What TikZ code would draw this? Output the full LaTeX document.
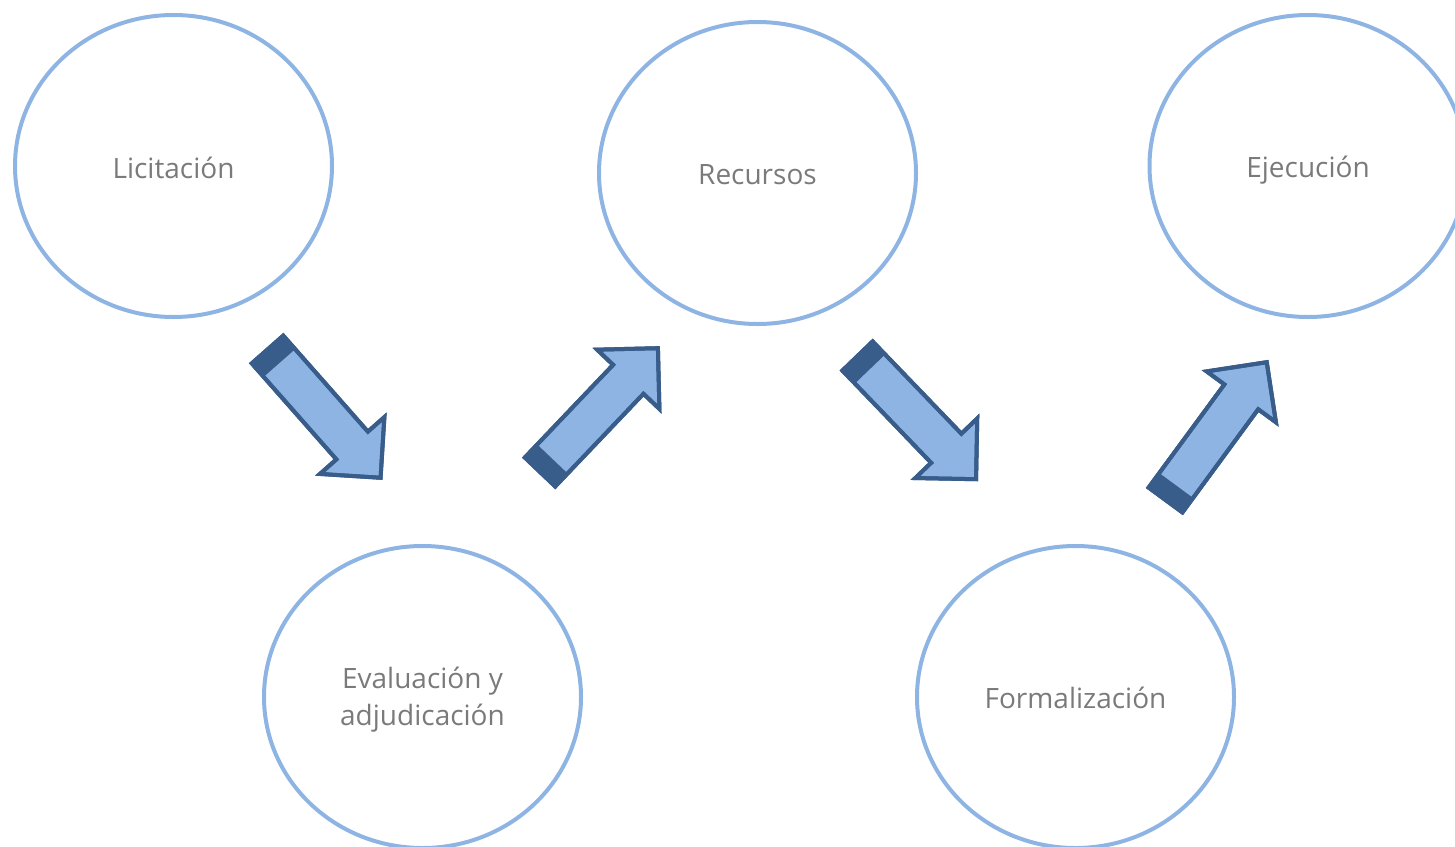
\documentclass[tikz,border=0pt]{standalone}
\usepackage{fontspec}
\setmainfont{Open Sans}
\usetikzlibrary{shapes.geometric}
\definecolor{ring}{HTML}{8EB4E3}
\definecolor{arrowfill}{HTML}{8EB4E3}
\definecolor{arrowdark}{HTML}{385D8A}
\definecolor{txt}{HTML}{7A7A7A}
\tikzset{
  stage/.style={ellipse, draw=ring, line width=4pt, minimum width=317pt, minimum height=302pt,
    inner sep=0pt},
  stagetext/.style={text=txt, align=center, inner sep=0pt, font=\fontsize{28}{37}\selectfont},
  blockbody/.style={fill=arrowfill, draw=arrowdark, line width=4pt, line join=miter},
  blockband/.style={fill=arrowdark},
}
\newcommand{\blockarrow}[3]{%
  \begin{scope}[shift={#1}, rotate=#2]
    \coordinate (#3) at (0,0);
    \path[blockbody] (0,-21) -- (128,-21) -- (128,-43) -- (171,0) -- (128,43) -- (128,21) -- (0,21) -- cycle;
    \path[blockband] (0,-21) rectangle (18,21);
    \path[draw=arrowdark, line width=4pt, line join=miter] (0,-21) -- (128,-21) -- (128,-43) -- (171,0) -- (128,43) -- (128,21) -- (0,21) -- cycle;
  \end{scope}}
\begin{document}
\begin{tikzpicture}[x=1pt,y=-1pt]
\useasboundingbox (0,0) rectangle (1455,846);
\node[stage] (lic) at (173.5,166) {};
\node[stage] (eva) at (422.5,697) {};
\node[stage] (rec) at (757.5,173) {};
\node[stage] (for) at (1075.5,697) {};
\node[stage] (eje) at (1308,166) {};
\node[stagetext] (licT) at ([yshift=-2pt]lic.center) {Licitación};
\node[stagetext] (evaT) at ([yshift=-3pt]eva.center) {Evaluación y\\adjudicación};
\node[stagetext] (recT) at ([yshift=-2pt]rec.center) {Recursos};
\node[stagetext] (forT) at ([yshift=-1pt]for.center) {Formalización};
\node[stagetext] (ejeT) at ([yshift=-4pt]eje.center) {Ejecución};
\blockarrow{(267.5,349.5)}{-48.6}{a1}
\blockarrow{(540,472)}{46.4}{a2}
\blockarrow{(857.5,356)}{-46.1}{a3}
\blockarrow{(1165.5,500)}{53.7}{a4}
\end{tikzpicture}
\end{document}
